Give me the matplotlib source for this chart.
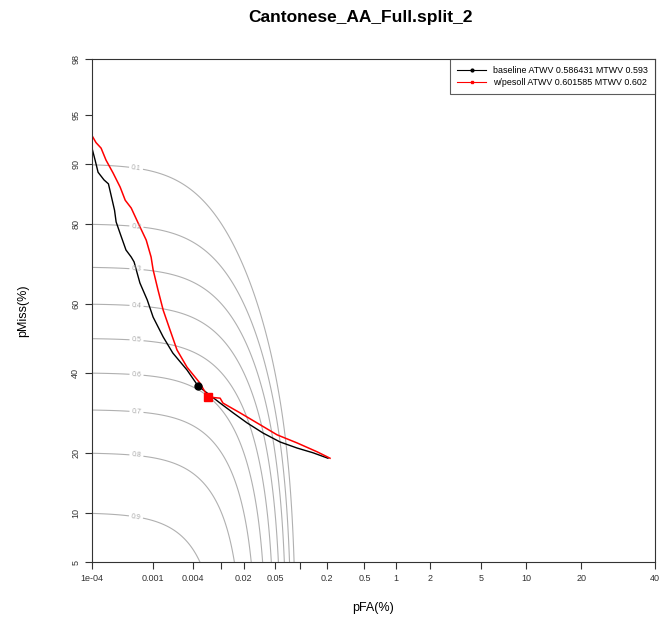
import math
import numpy as np
import matplotlib
matplotlib.use("Agg")
import matplotlib.pyplot as plt
from matplotlib.lines import Line2D
from matplotlib.ticker import FixedLocator, NullLocator

plt.rcParams['font.family'] = ['Liberation Sans', 'DejaVu Sans']

# DET curves, pFA(%) and pMiss(%)
base_pfa = [1e-4, 1.13e-4, 1.27e-4, 1.6e-4, 1.9e-4, 2.1e-4, 2.4e-4, 2.55e-4, 3.0e-4,
            3.7e-4, 4.5e-4, 5.0e-4, 6.2e-4, 8.1e-4, 0.001, 0.00143, 0.0020, 0.00325,
            0.0047, 0.0096, 0.0144, 0.0221, 0.0355, 0.0577, 0.092, 0.141, 0.207]
base_pmiss = [91.9, 90.5, 88.9, 87.8, 87.2, 85.4, 82.7, 80.4, 77.8,
              74.2, 72.5, 71.3, 65.8, 61.1, 56.2, 50.4, 45.7, 40.8,
              36.3, 31.7, 29.2, 26.7, 24.3, 22.3, 21.0, 20.0, 18.9]

pes_pfa = [1e-4, 1.17e-4, 1.43e-4, 1.73e-4, 2.27e-4, 2.97e-4, 3.6e-4, 4.5e-4, 5.8e-4,
           7.8e-4, 9.3e-4, 0.001, 0.00119, 0.00143, 0.00182, 0.00231, 0.00325, 0.0050,
           0.0065, 0.0096, 0.0105, 0.0178, 0.0297, 0.053, 0.092, 0.157, 0.218]
pes_pmiss = [93.2, 92.5, 91.9, 90.5, 88.8, 86.7, 84.5, 83.1, 80.2,
             76.5, 72.5, 69.3, 63.9, 58.2, 52.4, 46.6, 41.6, 37.1,
             33.3, 33.0, 31.7, 29.2, 26.7, 23.9, 22.1, 20.2, 18.9]

# MTWV operating points
base_mtwv = (0.0047, 36.3)
pes_mtwv = (0.0065, 33.3)

labels = ["baseline ATWV 0.586431 MTWV 0.593", "w/pesoll ATWV 0.601585 MTWV 0.602"]

twv_levels = [0.1, 0.2, 0.3, 0.4, 0.5, 0.6, 0.7, 0.8, 0.9]
beta = 999.9

xticks = [1e-4, 0.001, 0.004, 0.01, 0.02, 0.05, 0.1, 0.2, 0.5, 1, 2, 5, 10, 20, 40]
xticklabels = ["1e-04", "0.001", "0.004", "", "0.02", "0.05", "", "0.2", "0.5",
               "1", "2", "5", "10", "20", "40"]
yticks = [5, 10, 20, 40, 60, 80, 90, 95, 98]


def ndtri(p):
    # inverse normal CDF (Acklam's approximation)
    p = np.clip(np.asarray(p, dtype=float), 1e-15, 1 - 1e-15)
    a = [-3.969683028665376e+01, 2.209460984245205e+02, -2.759285104469687e+02,
         1.383577518672690e+02, -3.066479806614716e+01, 2.506628277459239e+00]
    b = [-5.447609879822406e+01, 1.615858368580409e+02, -1.556989798598866e+02,
         6.680131188771972e+01, -1.328068155288572e+01]
    c = [-7.784894002430293e-03, -3.223964580411365e-01, -2.400758277161838e+00,
         -2.549671010243209e+00, 4.374664141464968e+00, 2.938163982698783e+00]
    d = [7.784695709041462e-03, 3.224671290700398e-01, 2.445134137142996e+00,
         3.754408661907416e+00]
    plow = 0.02425
    out = np.empty_like(p)
    lo = p < plow
    hi = p > 1 - plow
    mid = ~(lo | hi)
    q = np.sqrt(-2 * np.log(p[lo]))
    out[lo] = (((((c[0]*q + c[1])*q + c[2])*q + c[3])*q + c[4])*q + c[5]) / \
              ((((d[0]*q + d[1])*q + d[2])*q + d[3])*q + 1)
    q = np.sqrt(-2 * np.log(1 - p[hi]))
    out[hi] = -(((((c[0]*q + c[1])*q + c[2])*q + c[3])*q + c[4])*q + c[5]) / \
               ((((d[0]*q + d[1])*q + d[2])*q + d[3])*q + 1)
    q = p[mid] - 0.5
    r = q * q
    out[mid] = (((((a[0]*r + a[1])*r + a[2])*r + a[3])*r + a[4])*r + a[5]) * q / \
               (((((b[0]*r + b[1])*r + b[2])*r + b[3])*r + b[4])*r + 1)
    return out


_erf = np.vectorize(math.erf)


def fwd(pct):
    return ndtri(np.asarray(pct, dtype=float) / 100.0)


def inv(z):
    return 100.0 * 0.5 * (1 + _erf(np.asarray(z, dtype=float) / math.sqrt(2)))


fig = plt.figure(figsize=(6.72, 6.41), dpi=100)
ax = fig.add_axes([0.1369, 0.1232, 0.8378, 0.7847])
ax.set_xscale('function', functions=(fwd, inv))
ax.set_yscale('function', functions=(fwd, inv))

# iso-TWV contours
zx = np.linspace(-4.8, -0.2, 500)
zy = np.linspace(-1.7, 2.1, 500)
PF, PM = np.meshgrid(inv(zx), inv(zy))
TWV = 1 - PM / 100 - beta * PF / 100
cs = ax.contour(PF, PM, TWV, levels=twv_levels, colors='#b0b0b0', linewidths=0.8)
ax.clabel(cs, fmt='%.1f', fontsize=5, colors='#a8a8a8', inline=True, inline_spacing=2,
          manual=[(5.5e-4, 100 * (1 - c)) for c in twv_levels])

ax.plot(base_pfa, base_pmiss, color='black', lw=1.0)
ax.plot(pes_pfa, pes_pmiss, color='red', lw=1.1)
ax.plot(*base_mtwv, marker='o', color='black', ms=5)
ax.plot(*pes_mtwv, marker='s', color='red', ms=6)

ax.set_xlim(1e-4, 40)
ax.set_ylim(5, 98)
ax.xaxis.set_major_locator(FixedLocator(xticks))
ax.xaxis.set_minor_locator(NullLocator())
ax.set_xticklabels(xticklabels)
ax.yaxis.set_major_locator(FixedLocator(yticks))
ax.yaxis.set_minor_locator(NullLocator())
ax.set_yticklabels([str(v) for v in yticks], rotation=90, va='center')
ax.tick_params(labelsize=6.5, colors='#333333', length=5, width=0.8, direction='out')
for s in ax.spines.values():
    s.set_color('#333333')
    s.set_linewidth(0.8)

handles = [Line2D([], [], color='black', marker='o', ms=2, lw=0.8),
           Line2D([], [], color='red', marker='s', ms=2, lw=0.8)]
leg = ax.legend(handles, labels, loc='upper right', fontsize=6.4, frameon=True,
                fancybox=False, borderaxespad=0, handlelength=3.2, borderpad=0.8,
                labelspacing=0.3)
leg.get_frame().set_edgecolor('#333333')
leg.get_frame().set_linewidth(0.8)

ax.set_xlabel('pFA(%)', fontsize=9, labelpad=14)
ax.set_ylabel('pMiss(%)', fontsize=9, labelpad=30)
fig.text(0.537, 0.972, 'Cantonese_AA_Full.split_2', fontsize=12.5, fontweight='bold',
         ha='center', va='center')

fig.savefig('out.png', dpi=100)
